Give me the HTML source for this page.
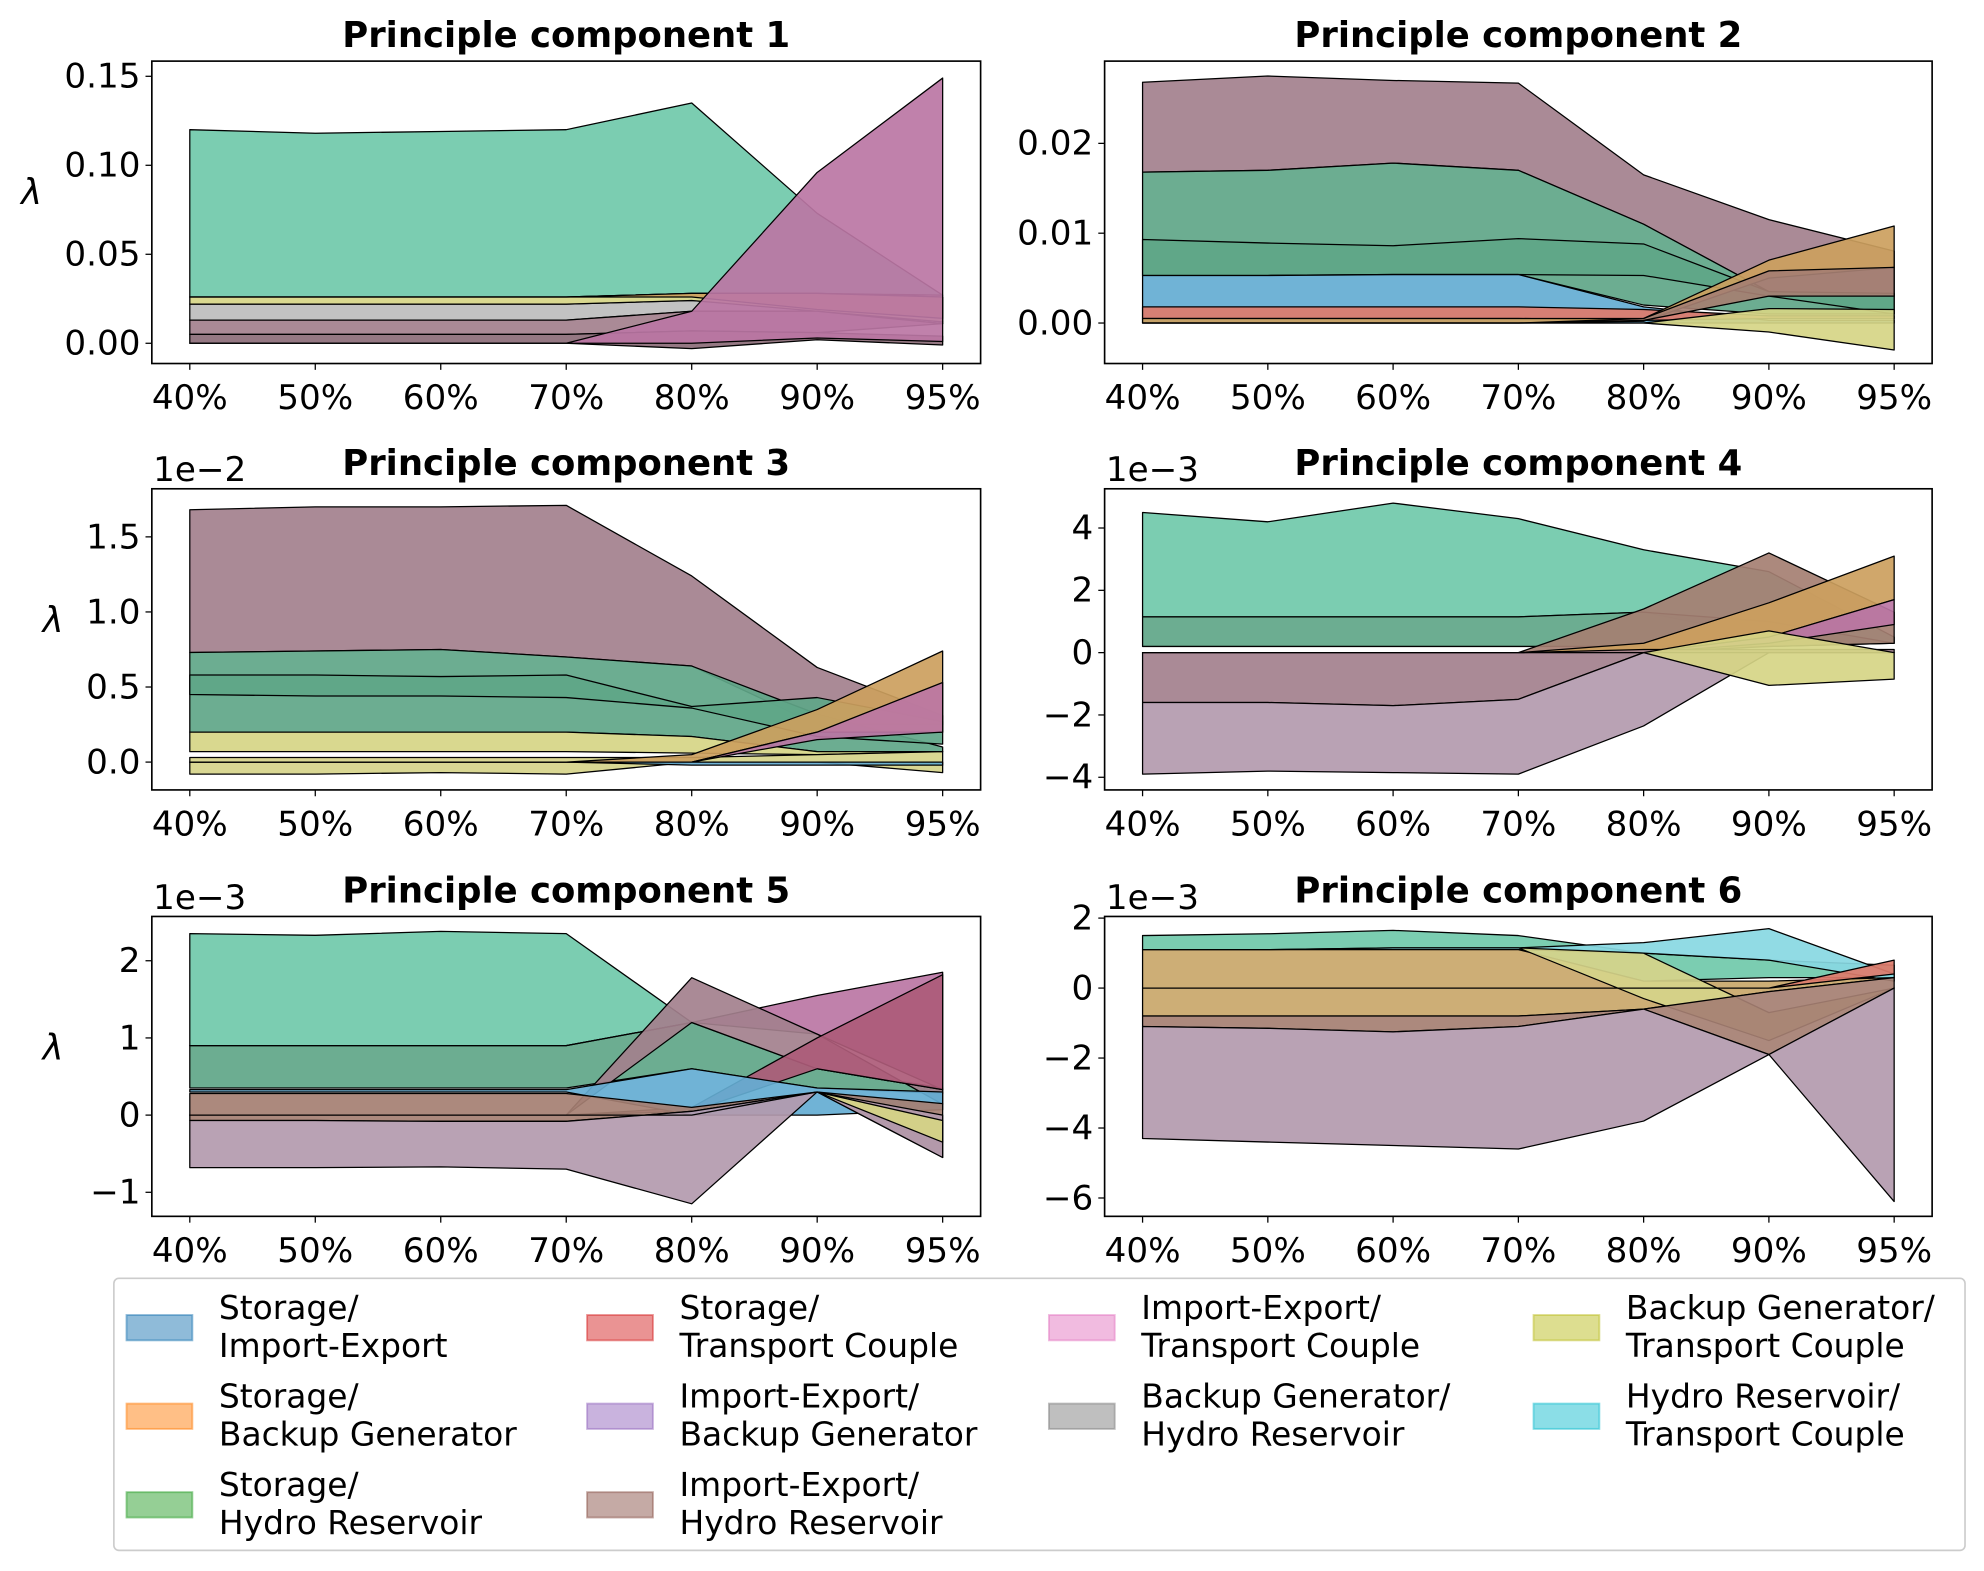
<!DOCTYPE html>
<html><head><meta charset="utf-8"><style>
html,body{margin:0;padding:0;background:#fff}
svg{display:block}
text{font-family:"DejaVu Sans","Liberation Sans",sans-serif}
</style></head><body>
<svg id="fig" width="1984" height="1571" viewBox="0 0 1568 1241" xmlns="http://www.w3.org/2000/svg">
<rect x="0" y="0" width="1568" height="1241" fill="#fff"/>
</svg>
<script>
const categories = ["40%","50%","60%","70%","80%","90%","95%"];
// PC1
const pc1_teal_hi=[0.120,0.118,0.119,0.120,0.135,0.073,0.027];
const pc1_teal_lo=[0.026,0.026,0.026,0.026,0.028,0.028,0.027];
const pc1_olive_hi=[0.026,0.026,0.026,0.026,0.028,0.028,0.026];
const pc1_olive_lo=[0.022,0.022,0.022,0.022,0.024,0.018,0.012];
const pc1_orange_hi=[0.026,0.026,0.026,0.026,0.028,0.028,0.026];
const pc1_orange_lo=[0.026,0.026,0.026,0.026,0.026,0.019,0.014];
const pc1_grey_hi=[0.022,0.022,0.022,0.022,0.024,0.019,0.012];
const pc1_grey_lo=[0.013,0.013,0.013,0.013,0.018,0.018,0.011];
const pc1_mauve_hi=[0.013,0.013,0.013,0.013,0.018,0.018,0.011];
const pc1_mauve_lo=[0.005,0.005,0.005,0.005,0.007,0.006,0.011];
const pc1_dark_hi=[0.005,0.005,0.005,0.005,0.007,0.006,0.004];
const pc1_dark_lo=[0.000,0.000,0.000,0.000,-0.003,0.002,-0.001];
const pc1_magenta_hi=[0.000,0.000,0.000,0.000,0.018,0.096,0.149];
const pc1_magenta_lo=[0.000,0.000,0.000,0.000,0.000,0.003,0.001];
// PC2
const pc2_mauve_hi=[0.0268,0.0275,0.0270,0.0267,0.0165,0.0115,0.0080];
const pc2_mauve_lo=[0.0168,0.0170,0.0178,0.0170,0.0110,0.0035,0.0030];
const pc2_green_hi=[0.0168,0.0170,0.0178,0.0170,0.0110,0.0035,0.0030];
const pc2_green_lo=[0.0053,0.0053,0.0054,0.0054,0.0020,0.0010,0.0010];
const pc2_mid_hi=[0.0093,0.0089,0.0086,0.0094,0.0088,0.0035,0.0033];
const pc2_mid_lo=[0.0053,0.0053,0.0054,0.0054,0.0053,0.0030,0.0010];
const pc2_blue_hi=[0.0053,0.0053,0.0054,0.0054,0.0018,0.0003,0.0003];
const pc2_blue_lo=[0.0000,0.0000,0.0000,0.0000,0.0000,0.0000,0.0000];
const pc2_red_hi=[0.0018,0.0018,0.0018,0.0018,0.0015,0.0008,0.0008];
const pc2_red_lo=[0.0005,0.0005,0.0005,0.0005,0.0003,0.0005,0.0005];
const pc2_orange_hi=[0.0005,0.0005,0.0005,0.0005,0.0005,0.0070,0.0108];
const pc2_orange_lo=[0.0000,0.0000,0.0000,0.0000,0.0002,0.0050,0.0062];
const pc2_brown_hi=[0.0000,0.0000,0.0000,0.0000,0.0005,0.0058,0.0062];
const pc2_brown_lo=[0.0000,0.0000,0.0000,0.0000,0.0003,0.0030,0.0030];
const pc2_olive_hi=[0.0000,0.0000,0.0000,0.0000,0.0000,0.0016,0.0015];
const pc2_olive_lo=[0.0000,0.0000,0.0000,0.0000,0.0000,-0.0010,-0.0030];
// PC3 (x1e-2)
const pc3_mauve_hi=[1.68,1.70,1.70,1.71,1.24,0.63,0.31];
const pc3_mauve_lo=[0.73,0.74,0.75,0.70,0.64,0.25,0.25];
const pc3_green_hi=[0.73,0.74,0.75,0.70,0.64,0.32,0.10];
const pc3_green_lo=[0.20,0.20,0.20,0.20,0.17,0.07,0.07];
const pc3_mid_hi=[0.58,0.58,0.57,0.58,0.37,0.43,0.27];
const pc3_mid_lo=[0.45,0.44,0.44,0.43,0.36,0.17,0.12];
const pc3_olive_hi=[0.20,0.20,0.20,0.20,0.17,0.07,0.07];
const pc3_olive_lo=[0.07,0.07,0.07,0.07,0.06,0.05,0.07];
const pc3_yellow_hi=[0.03,0.03,0.03,0.03,0.03,0.05,0.07];
const pc3_yellow_lo=[-0.08,-0.08,-0.07,-0.08,0.00,0.00,-0.07];
const pc3_orange_hi=[0.00,0.00,0.00,0.00,0.05,0.35,0.74];
const pc3_orange_lo=[0.00,0.00,0.00,0.00,0.00,0.20,0.20];
const pc3_magenta_hi=[0.00,0.00,0.00,0.00,0.00,0.20,0.53];
const pc3_magenta_lo=[0.00,0.00,0.00,0.00,0.00,0.15,0.20];
const pc3_blue_hi=[0.00,0.00,0.00,0.00,0.00,0.00,0.00];
const pc3_blue_lo=[0.00,0.00,0.00,0.00,-0.02,-0.02,-0.02];
// PC4 (x1e-3)
const pc4_teal_hi=[4.5,4.2,4.8,4.3,3.3,2.6,0.5];
const pc4_teal_lo=[1.15,1.15,1.15,1.15,1.3,0.5,0.3];
const pc4_green_hi=[1.15,1.15,1.15,1.15,1.3,1.0,0.3];
const pc4_green_lo=[0.2,0.2,0.2,0.2,0.2,0.2,0.3];
const pc4_brown_hi=[0.0,0.0,0.0,0.0,1.4,3.2,1.3];
const pc4_brown_lo=[0.0,0.0,0.0,0.0,0.0,0.2,0.3];
const pc4_orange_hi=[0.0,0.0,0.0,0.0,0.3,1.6,3.1];
const pc4_orange_lo=[0.0,0.0,0.0,0.0,0.0,0.5,1.7];
const pc4_magenta_hi=[0.0,0.0,0.0,0.0,0.0,0.5,1.7];
const pc4_magenta_lo=[0.0,0.0,0.0,0.0,0.0,0.3,0.9];
const pc4_mauve_hi=[0.0,0.0,0.0,0.0,0.1,0.1,0.1];
const pc4_mauve_lo=[-1.6,-1.6,-1.7,-1.5,0.0,0.0,0.0];
const pc4_lmauve_hi=[-1.6,-1.6,-1.7,-1.5,0.0,0.0,0.0];
const pc4_lmauve_lo=[-3.9,-3.8,-3.85,-3.9,-2.35,0.0,0.0];
const pc4_olive_hi=[0.0,0.0,0.0,0.0,0.0,0.7,0.0];
const pc4_olive_lo=[0.0,0.0,0.0,0.0,0.0,-1.05,-0.85];
// PC5 (x1e-3)
const pc5_teal_hi=[2.35,2.33,2.38,2.35,1.2,0.6,0.35];
const pc5_teal_lo=[0.9,0.9,0.9,0.9,1.2,0.6,0.33];
const pc5_green_hi=[0.9,0.9,0.9,0.9,1.2,0.6,0.33];
const pc5_green_lo=[0.35,0.35,0.35,0.35,0.6,0.35,0.28];
const pc5_mauve_hi=[0.0,0.0,0.0,0.0,1.78,1.05,0.14];
const pc5_mauve_lo=[0.0,0.0,0.0,0.0,1.2,0.6,0.33];
const pc5_magenta_hi=[0.9,0.9,0.9,0.9,1.2,1.55,1.85];
const pc5_magenta_lo=[0.9,0.9,0.9,0.9,1.2,1.05,0.33];
const pc5_darkred_hi=[0.0,0.0,0.0,0.0,0.1,1.0,1.82];
const pc5_darkred_lo=[0.0,0.0,0.0,0.0,0.05,0.6,0.33];
const pc5_blue_hi=[0.33,0.33,0.33,0.33,0.6,0.35,0.3];
const pc5_blue_lo=[0.3,0.3,0.3,0.3,0.0,0.0,0.07];
const pc5_brown_hi=[0.28,0.28,0.28,0.28,0.1,0.3,0.15];
const pc5_brown_lo=[-0.07,-0.07,-0.08,-0.08,0.05,0.3,-0.55];
const pc5_lmauve_hi=[-0.07,-0.07,-0.08,-0.08,0.05,0.3,0.0];
const pc5_lmauve_lo=[-0.68,-0.68,-0.67,-0.7,-1.15,0.3,-0.55];
const pc5_olive_hi=[0.0,0.0,0.0,0.0,0.0,0.3,-0.07];
const pc5_olive_lo=[0.0,0.0,0.0,0.0,0.0,0.3,-0.35];
// PC6 (x1e-3)
const pc6_teal_hi=[1.5,1.55,1.65,1.5,1.0,0.8,0.65];
const pc6_teal_lo=[1.1,1.1,1.1,1.1,0.2,0.3,0.3];
const pc6_cyan_hi=[1.1,1.1,1.15,1.15,1.3,1.7,0.4];
const pc6_cyan_lo=[1.1,1.1,1.1,1.1,1.0,0.8,0.2];
const pc6_tan_hi=[1.1,1.1,1.1,1.1,0.2,0.2,0.3];
const pc6_tan_lo=[-0.8,-0.8,-0.8,-0.8,-0.6,-0.1,0.3];
const pc6_yellow_hi=[1.1,1.1,1.15,1.15,1.0,-0.7,0.0];
const pc6_yellow_lo=[1.1,1.1,1.15,1.15,-0.3,-1.5,0.0];
const pc6_brown_hi=[-0.8,-0.8,-0.8,-0.8,-0.6,-0.1,0.3];
const pc6_brown_lo=[-1.1,-1.15,-1.25,-1.1,-0.6,-1.9,0.0];
const pc6_lmauve_hi=[-1.1,-1.15,-1.25,-1.1,-0.6,-1.9,0.0];
const pc6_lmauve_lo=[-4.3,-4.4,-4.5,-4.6,-3.8,-1.9,-6.1];
const pc6_red_hi=[0.0,0.0,0.0,0.0,0.0,0.0,0.8];
const pc6_red_lo=[0.0,0.0,0.0,0.0,0.0,0.0,0.4];
// tick values
const pc1_ticks=[0,0.05,0.10,0.15]; const pc1_tickLabels=["0.00","0.05","0.10","0.15"];
const pc2_ticks=[0,0.01,0.02]; const pc2_tickLabels=["0.00","0.01","0.02"];
const pc3_ticks=[0,0.5,1.0,1.5]; const pc3_tickLabels=["0.0","0.5","1.0","1.5"];
const pc4_ticks=[-4,-2,0,2,4]; const pc4_tickLabels=["\u22124","\u22122","0","2","4"];
const pc5_ticks=[-1,0,1,2]; const pc5_tickLabels=["\u22121","0","1","2"];
const pc6_ticks=[-6,-4,-2,0,2]; const pc6_tickLabels=["\u22126","\u22124","\u22122","0","2"];

const C={teal:"#70c9aa",mauve:"#a3808d",magenta:"#bb76a4",green:"#5fa688",blue:"#64acd3",olive:"#d6d585",orange:"#cc9f5e",grey:"#bdbdbd",lmauve:"#b39aae",cyan:"#88d8e2",tan:"#c9a76a",darkred:"#ac5b78",brown:"#a57f72",red:"#de7b6b",yellow:"#d6d48a",dark:"#8c6c78"};
const NS="http://www.w3.org/2000/svg";
const svg=document.getElementById("fig");
function mk(tag,attrs,parent){const e=document.createElementNS(NS,tag);for(const k in attrs)e.setAttribute(k,attrs[k]);(parent||svg).appendChild(e);return e;}

const TICK_FS=27, TITLE_FS=28;
const panels=[
 {id:1,x0:120,x1:775,y0:48,y1:287,v0:0,p0:271,v1:0.15,p1:60,ticks:pc1_ticks,labels:pc1_tickLabels,lam:[25,152],off:null,
  bands:[["teal",pc1_teal_hi,pc1_teal_lo],["grey",pc1_grey_hi,pc1_grey_lo],["olive",pc1_olive_hi,pc1_olive_lo],["orange",pc1_orange_hi,pc1_orange_lo],["mauve",pc1_mauve_hi,pc1_mauve_lo],["dark",pc1_dark_hi,pc1_dark_lo],["magenta",pc1_magenta_hi,pc1_magenta_lo]]},
 {id:2,x0:873,x1:1527,y0:48,y1:287,v0:0,p0:255,v1:0.02,p1:113,ticks:pc2_ticks,labels:pc2_tickLabels,lam:null,off:null,
  bands:[["mauve",pc2_mauve_hi,pc2_mauve_lo],["green",pc2_green_hi,pc2_green_lo],["green",pc2_mid_hi,pc2_mid_lo],["blue",pc2_blue_hi,pc2_blue_lo],["red",pc2_red_hi,pc2_red_lo],["orange",pc2_orange_hi,pc2_orange_lo],["brown",pc2_brown_hi,pc2_brown_lo],["olive",pc2_olive_hi,pc2_olive_lo]]},
 {id:3,x0:120,x1:775,y0:386,y1:624,v0:0,p0:602,v1:1.5,p1:424,ticks:pc3_ticks,labels:pc3_tickLabels,lam:[42,490],off:"1e\u22122",
  bands:[["mauve",pc3_mauve_hi,pc3_mauve_lo],["green",pc3_green_hi,pc3_green_lo],["green",pc3_mid_hi,pc3_mid_lo],["olive",pc3_olive_hi,pc3_olive_lo],["yellow",pc3_yellow_hi,pc3_yellow_lo],["orange",pc3_orange_hi,pc3_orange_lo],["magenta",pc3_magenta_hi,pc3_magenta_lo],["blue",pc3_blue_hi,pc3_blue_lo]]},
 {id:4,x0:873,x1:1527,y0:386,y1:624,v0:0,p0:515.5,v1:4,p1:417,ticks:pc4_ticks,labels:pc4_tickLabels,lam:null,off:"1e\u22123",
  bands:[["teal",pc4_teal_hi,pc4_teal_lo],["green",pc4_green_hi,pc4_green_lo],["brown",pc4_brown_hi,pc4_brown_lo],["orange",pc4_orange_hi,pc4_orange_lo],["magenta",pc4_magenta_hi,pc4_magenta_lo],["mauve",pc4_mauve_hi,pc4_mauve_lo],["lmauve",pc4_lmauve_hi,pc4_lmauve_lo],["olive",pc4_olive_hi,pc4_olive_lo]]},
 {id:5,x0:120,x1:775,y0:724,y1:961,v0:0,p0:881,v1:2,p1:759,ticks:pc5_ticks,labels:pc5_tickLabels,lam:[42,828],off:"1e\u22123",
  bands:[["teal",pc5_teal_hi,pc5_teal_lo],["green",pc5_green_hi,pc5_green_lo],["magenta",pc5_magenta_hi,pc5_magenta_lo],["mauve",pc5_mauve_hi,pc5_mauve_lo],["darkred",pc5_darkred_hi,pc5_darkred_lo],["blue",pc5_blue_hi,pc5_blue_lo],["brown",pc5_brown_hi,pc5_brown_lo],["lmauve",pc5_lmauve_hi,pc5_lmauve_lo],["olive",pc5_olive_hi,pc5_olive_lo]]},
 {id:6,x0:873,x1:1527,y0:724,y1:961,v0:0,p0:780.6,v1:2,p1:725.3,ticks:pc6_ticks,labels:pc6_tickLabels,lam:null,off:"1e\u22123",
  bands:[["teal",pc6_teal_hi,pc6_teal_lo],["cyan",pc6_cyan_hi,pc6_cyan_lo],["tan",pc6_tan_hi,pc6_tan_lo],["yellow",pc6_yellow_hi,pc6_yellow_lo],["brown",pc6_brown_hi,pc6_brown_lo],["lmauve",pc6_lmauve_hi,pc6_lmauve_lo],["red",pc6_red_hi,pc6_red_lo]]}
];

panels.forEach(p=>{
  const g=mk("g",{});
  
  
  const xs=i=>p.x0+30+i*(p.x1-p.x0-60)/(categories.length-1);
  const ys=v=>p.p0+(v-p.v0)*(p.p1-p.p0)/(p.v1-p.v0);
  p.bands.forEach((b)=>{
    const hi=b[1],lo=b[2];
    let pts=[];
    for(let i=0;i<categories.length;i++)pts.push(xs(i).toFixed(1)+","+ys(hi[i]).toFixed(1));
    for(let i=categories.length-1;i>=0;i--)pts.push(xs(i).toFixed(1)+","+ys(lo[i]).toFixed(1));
    const poly=mk("polygon",{points:pts.join(" "),fill:C[b[0]],"fill-opacity":"0.92",stroke:"#000","stroke-width":"1","stroke-linejoin":"round"},g);
    
    
  });
  const frame=mk("rect",{x:p.x0,y:p.y0,width:p.x1-p.x0,height:p.y1-p.y0,fill:"none",stroke:"#000","stroke-width":"1.3"},g);
  
  
  categories.forEach((c,i)=>{
    mk("line",{x1:xs(i),x2:xs(i),y1:p.y1,y2:p.y1+5,stroke:"#000","stroke-width":"1"},g);
    const t=mk("text",{x:xs(i),y:p.y1+36,"text-anchor":"middle","font-size":TICK_FS},g);
    t.textContent=c;
    
    
  });
  p.ticks.forEach((v,i)=>{
    const y=ys(v);
    mk("line",{x1:p.x0-5,x2:p.x0,y1:y,y2:y,stroke:"#000","stroke-width":"1"},g);
    const t=mk("text",{x:p.x0-9,y:y+9,"text-anchor":"end","font-size":TICK_FS},g);
    t.textContent=p.labels[i];
    
    
  });
  const tt=mk("text",{x:(p.x0+p.x1)/2,y:p.y0-11,"text-anchor":"middle","font-size":TITLE_FS,"font-weight":"bold"},g);
  tt.textContent="Principle component "+p.id;
  
  
  if(p.off){
    const o=mk("text",{x:p.x0+1,y:p.y0-6,"font-size":TICK_FS},g);
    o.textContent=p.off;
    
    
  }
  if(p.lam){
    const l=mk("text",{x:p.lam[0],y:p.lam[1]+9,"text-anchor":"middle","font-size":"28","font-style":"italic"},g);
    l.textContent="\u03bb";
    
    
  }
});

// legend
const legendLabels=[["Storage/","Import-Export"],["Storage/","Backup Generator"],["Storage/","Hydro Reservoir"],["Storage/","Transport Couple"],["Import-Export/","Backup Generator"],["Import-Export/","Hydro Reservoir"],["Import-Export/","Transport Couple"],["Backup Generator/","Hydro Reservoir"],["Backup Generator/","Transport Couple"],["Hydro Reservoir/","Transport Couple"]];
const legendColors=["#1f77b4","#ff7f0e","#2ca02c","#d62728","#9467bd","#8c564b","#e377c2","#7f7f7f","#bcbd22","#17becf"];
const lg=mk("g",{});


mk("rect",{x:90,y:1010,width:1463,height:215,rx:4,fill:"#fff",stroke:"#ccc","stroke-width":"1.3"},lg);
const colX=[100,464,829,1212];
const rowsPerCol=[3,3,2,2];
let k=0;
colX.forEach((cx,ci)=>{
  for(let r=0;r<rowsPerCol[ci];r++,k++){
    const yb=1039+r*70;
    const e=mk("g",{},lg);
    
    
    mk("rect",{x:cx,y:yb,width:52,height:20,fill:legendColors[k],"fill-opacity":"0.5",stroke:legendColors[k],"stroke-opacity":"0.5","stroke-width":"1.5"},e);
    const t1=mk("text",{x:cx+73,y:yb+3,"font-size":"26"},e); t1.textContent=legendLabels[k][0];
    const t2=mk("text",{x:cx+73,y:yb+33,"font-size":"26"},e); t2.textContent=legendLabels[k][1];
  }
});
</script>
</body></html>
